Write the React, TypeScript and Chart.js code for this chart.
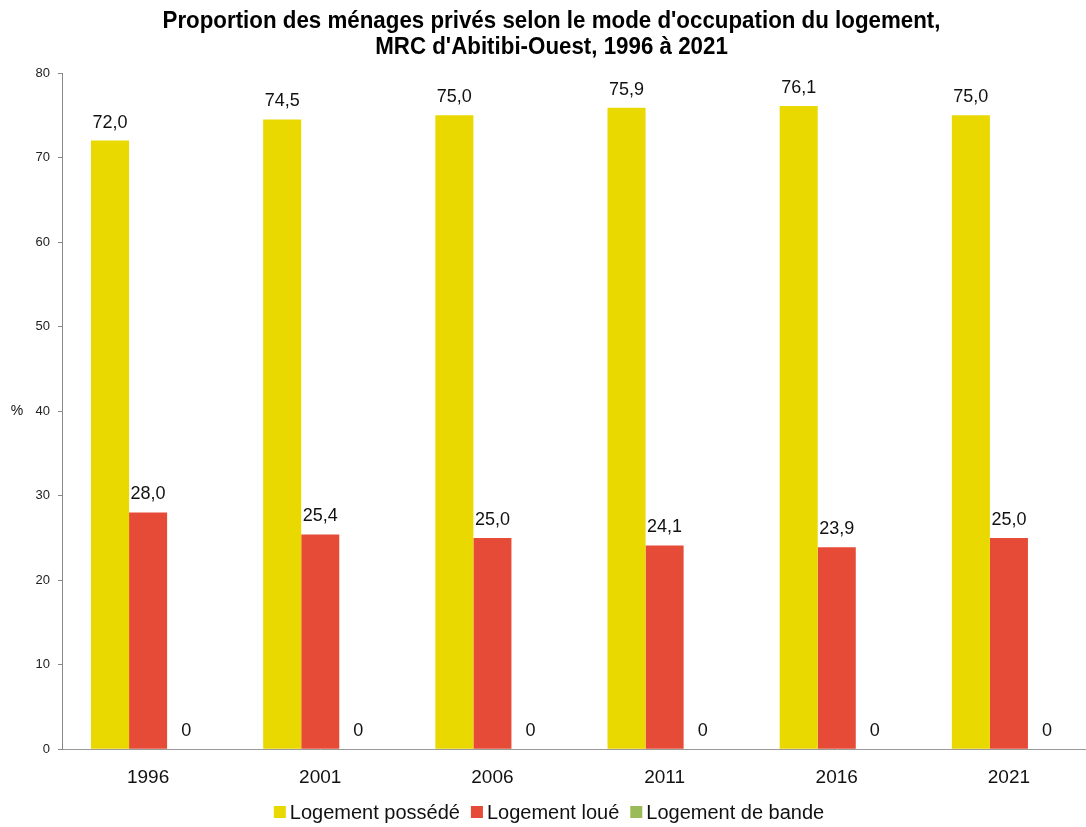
import React, { useEffect, useRef } from "react";
import { Chart, registerables } from "chart.js";

Chart.register(...registerables);

const categories = ["1996", "2001", "2006", "2011", "2016", "2021"];
const ownedValues = [72.0, 74.5, 75.0, 75.9, 76.1, 75.0];
const rentedValues = [28.0, 25.4, 25.0, 24.1, 23.9, 25.0];
const bandValues = [0, 0, 0, 0, 0, 0];
const seriesNames = ["Logement possédé", "Logement loué", "Logement de bande"];
const titleLines = [
  "Proportion des ménages privés selon le mode d'occupation du logement,",
  "MRC d'Abitibi-Ouest, 1996 à 2021",
];
const yAxisLabel = "%";

const FONT = "'Liberation Sans', Arial, sans-serif";
const COLORS = ["#EAD900", "#E54B37", "#9BBB59"];

const fmt = (v: number) => (v === 0 ? "0" : v.toFixed(1).replace(".", ","));

const labelPlugin = {
  id: "valueLabels",
  afterDraw(chart: any) {
    const ctx = chart.ctx;
    ctx.save();
    // title, slightly condensed
    ctx.font = `bold 24px ${FONT}`;
    ctx.fillStyle = "#000";
    ctx.textAlign = "center";
    ctx.textBaseline = "middle";
    const cx = (chart.chartArea.left + chart.chartArea.right) / 2 - 27;
    titleLines.forEach((line, i) => {
      ctx.save();
      ctx.translate(cx, 21 + i * 26);
      ctx.scale(0.93, 1);
      ctx.fillText(line, 0, 0);
      ctx.restore();
    });
    // legend
    ctx.font = `20px ${FONT}`;
    ctx.textAlign = "left";
    ctx.textBaseline = "middle";
    const box = 12;
    const gapBox = 4;
    const gapItem = 11;
    const widths = seriesNames.map((s) => ctx.measureText(s).width);
    const total =
      widths.reduce((a, b) => a + b, 0) + seriesNames.length * (box + gapBox) + (seriesNames.length - 1) * gapItem;
    let x = 549 - total / 2;
    const ly = 812;
    seriesNames.forEach((s, i) => {
      ctx.fillStyle = COLORS[i];
      ctx.fillRect(x, ly - box / 2, box, box);
      x += box + gapBox;
      ctx.fillStyle = "#111";
      ctx.fillText(s, x, ly + 1);
      x += widths[i] + gapItem;
    });
    ctx.restore();
  },
  afterDatasetsDraw(chart: any) {
    const ctx = chart.ctx;
    ctx.save();
    ctx.font = `18px ${FONT}`;
    ctx.fillStyle = "#111";
    ctx.textAlign = "center";
    ctx.textBaseline = "bottom";
    chart.data.datasets.forEach((ds: any, i: number) => {
      const meta = chart.getDatasetMeta(i);
      meta.data.forEach((el: any, j: number) => {
        const v = ds.data[j];
        ctx.fillText(fmt(v), el.x, el.y - 9);
      });
    });
    const y = chart.scales.y;
    ctx.font = `14px ${FONT}`;
    ctx.textAlign = "center";
    ctx.textBaseline = "middle";
    ctx.fillText(yAxisLabel, 17, y.getPixelForValue(40));
    ctx.restore();
  },
};

export default function App() {
  const ref = useRef<HTMLCanvasElement | null>(null);
  useEffect(() => {
    document.body.style.margin = "0";
    const canvas = ref.current!;
    const chart = new Chart(canvas, {
      type: "bar",
      data: {
        labels: categories,
        datasets: [
          { label: seriesNames[0], data: ownedValues, backgroundColor: COLORS[0] },
          { label: seriesNames[1], data: rentedValues, backgroundColor: COLORS[1] },
          { label: seriesNames[2], data: bandValues, backgroundColor: COLORS[2] },
        ],
      },
      options: {
        responsive: false,
        animation: false,
        layout: { padding: { left: 0, right: 0, top: 73, bottom: 29 } },
        datasets: {
          bar: { categoryPercentage: 0.663, barPercentage: 1.0 },
        },
        plugins: {
          title: { display: false },
          legend: { display: false },
          tooltip: { enabled: false },
        },
        scales: {
          x: {
            grid: { display: false },
            border: { display: true, color: "#999" },
            ticks: { color: "#111", font: { family: FONT, size: 19 }, padding: 9 },
          },
          y: {
            min: 0,
            max: 80,
            afterFit(scale: any) {
              scale.width = 62;
            },
            grid: { display: true, drawOnChartArea: false, drawTicks: true, tickLength: 4, color: "#888" },
            border: { display: true, color: "#888" },
            ticks: { stepSize: 10, color: "#222", font: { family: FONT, size: 13 }, padding: 8 },
          },
        },
      },
      plugins: [labelPlugin],
    });
    return () => chart.destroy();
  }, []);
  return (
    <div style={{ width: 1086, height: 827, overflow: "hidden", background: "#fff" }}>
      <canvas ref={ref} width={1095} height={827} style={{ display: "block" }} />
    </div>
  );
}
